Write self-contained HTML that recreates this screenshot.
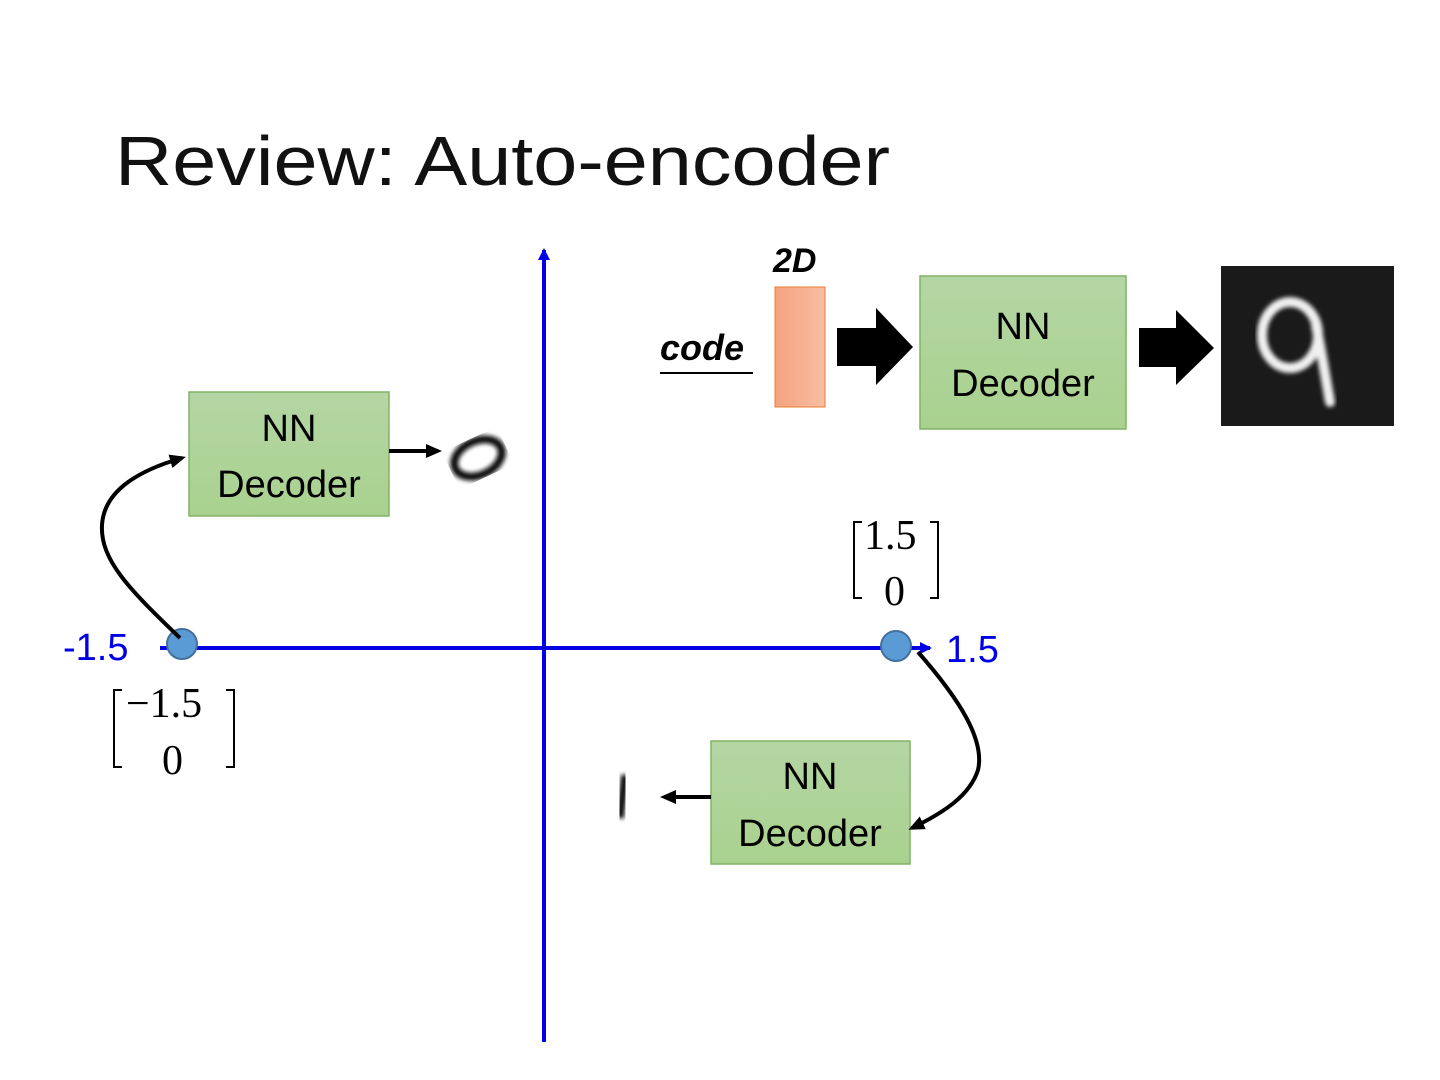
<!DOCTYPE html>
<html><head><meta charset="utf-8"><style>
html,body{margin:0;padding:0;background:#fff;}
svg{display:block;}
text{font-family:"Liberation Sans",sans-serif;}
text.s{font-family:"Liberation Serif",serif;}
</style></head><body>
<svg width="1440" height="1080" viewBox="0 0 1440 1080" xmlns="http://www.w3.org/2000/svg">
<defs>
<linearGradient id="g" x1="0" x2="0" y1="0" y2="1"><stop offset="0" stop-color="#b4d6a4"/><stop offset="1" stop-color="#a9d18e"/></linearGradient>
<linearGradient id="o" x1="0" x2="1"><stop offset="0" stop-color="#f4a27e"/><stop offset="1" stop-color="#f8bea3"/></linearGradient>
<marker id="ah" markerWidth="16" markerHeight="16" refX="12" refY="8" orient="auto" markerUnits="userSpaceOnUse"><path d="M0,1 L16,8 L0,15 z" fill="#000"/></marker>
<marker id="bh" markerWidth="12" markerHeight="12" refX="10" refY="6" orient="auto" markerUnits="userSpaceOnUse"><path d="M0,0 L12,6 L0,12 z" fill="#0000e6"/></marker>
<filter id="blur"><feGaussianBlur stdDeviation="2"/></filter>
</defs>
<text x="115" y="185" font-size="70" fill="#111" textLength="775" lengthAdjust="spacingAndGlyphs">Review: Auto-encoder</text>

<line x1="544" y1="1042" x2="544" y2="250" stroke="#0000e6" stroke-width="4" marker-end="url(#bh)"/>
<line x1="160" y1="648" x2="930" y2="648" stroke="#0000e6" stroke-width="4" marker-end="url(#bh)"/>
<text x="63" y="660" font-size="38" fill="#0000e6">-1.5</text>
<text x="946" y="662" font-size="38" fill="#0000e6">1.5</text>

<circle cx="182" cy="644" r="15" fill="#5b9bd5" stroke="#41719c" stroke-width="2"/>
<circle cx="896" cy="646" r="15" fill="#5b9bd5" stroke="#41719c" stroke-width="2"/>

<text class="s" x="126" y="717" font-size="42">−1.5</text>
<text class="s" x="162" y="774" font-size="42">0</text>
<path d="M122,690 L114,690 L114,767 L122,767" fill="none" stroke="#000" stroke-width="2"/>
<path d="M226,690 L234,690 L234,767 L226,767" fill="none" stroke="#000" stroke-width="2"/>
<text class="s" x="864" y="549" font-size="42">1.5</text>
<text class="s" x="884" y="605" font-size="42">0</text>
<path d="M862,522 L854,522 L854,598 L862,598" fill="none" stroke="#000" stroke-width="2"/>
<path d="M930,522 L938,522 L938,598 L930,598" fill="none" stroke="#000" stroke-width="2"/>

<rect x="189" y="392" width="200" height="124" fill="url(#g)" stroke="#82b366" stroke-width="1.5"/>
<text x="289" y="441" font-size="38" text-anchor="middle">NN</text>
<text x="289" y="497" font-size="38" text-anchor="middle">Decoder</text>
<rect x="920" y="276" width="206" height="153" fill="url(#g)" stroke="#82b366" stroke-width="1.5"/>
<text x="1023" y="339" font-size="38" text-anchor="middle">NN</text>
<text x="1023" y="396" font-size="38" text-anchor="middle">Decoder</text>
<rect x="711" y="741" width="199" height="123" fill="url(#g)" stroke="#82b366" stroke-width="1.5"/>
<text x="810" y="789" font-size="38" text-anchor="middle">NN</text>
<text x="810" y="846" font-size="38" text-anchor="middle">Decoder</text>

<path d="M180,638 C130,590 100,560 102,525 C104,490 140,470 182,458" fill="none" stroke="#000" stroke-width="4" marker-end="url(#ah)"/>
<line x1="389" y1="451" x2="438" y2="451" stroke="#000" stroke-width="4" marker-end="url(#ah)"/>
<path d="M918,652 C960,700 985,740 978,770 C970,795 945,812 912,828" fill="none" stroke="#000" stroke-width="4" marker-end="url(#ah)"/>
<line x1="711" y1="797" x2="664" y2="797" stroke="#000" stroke-width="4" marker-end="url(#ah)"/>

<ellipse cx="478" cy="458" rx="25" ry="17" transform="rotate(-25 478 458)" fill="none" stroke="#111" stroke-width="8" filter="url(#blur)"/>
<line x1="625" y1="775" x2="620" y2="818" stroke="#111" stroke-width="8" filter="url(#blur)"/>

<text x="773" y="272" font-size="34" font-weight="bold" font-style="italic">2D</text>
<text x="660" y="360" font-size="36" font-weight="bold" font-style="italic">code</text>
<line x1="660" y1="373" x2="753" y2="373" stroke="#000" stroke-width="2"/>
<rect x="775" y="287" width="50" height="120" fill="url(#o)" stroke="#ed7d31" stroke-width="1"/>
<path d="M837,328 L876,328 L876,308 L913,347 L876,385 L876,366 L837,366 z" fill="#000"/>
<path d="M1139,328 L1176,328 L1176,310 L1214,348 L1176,385 L1176,367 L1139,367 z" fill="#000"/>
<rect x="1221" y="266" width="173" height="160" fill="#1a1a1a"/>
<g filter="url(#blur)" stroke="#f0f0f0" stroke-width="10" fill="none" stroke-linecap="round">
<ellipse cx="1290" cy="335" rx="28" ry="33"/>
<path d="M1316,325 C1322,355 1326,380 1330,402"/>
</g>
</svg>
</body></html>
